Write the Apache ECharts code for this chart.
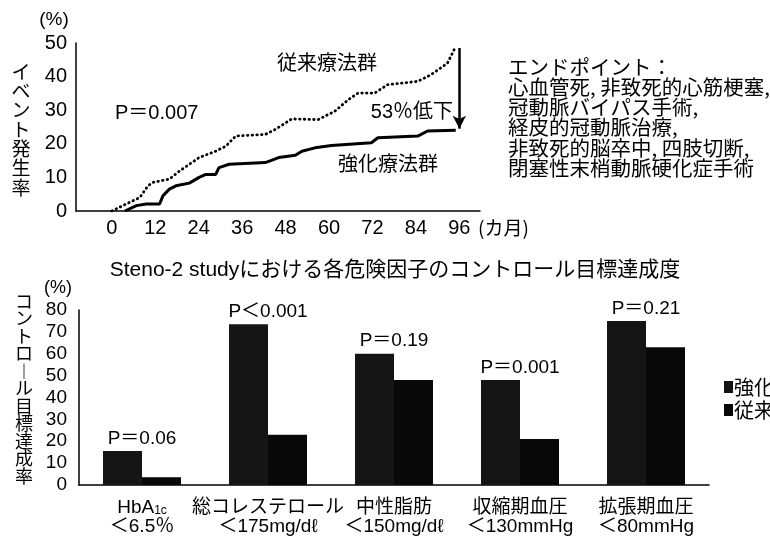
<!DOCTYPE html>
<html>
<head>
<meta charset="utf-8">
<script src="https://cdn.jsdelivr.net/npm/echarts@6/dist/echarts.min.js"></script>
<style>
html,body{margin:0;padding:0;background:#fff;}
#c{width:770px;height:536px;}
</style>
</head>
<body>
<div id="c"></div>
<script>
// ---- Top chart: cumulative event rate (%) vs months ----
const monthsConv = [0, 4.0, 7.7, 10.0, 11.3, 15.9, 18.7, 21.4, 24.1, 28.7, 31.5, 34.2, 42.4, 45.2, 49.7, 57.0, 61.6, 65.3, 68.0, 72.6, 76.2, 84.5, 88.1, 92.7, 95.0];
const rateConv   = [0, 2.1, 4.0, 7.5, 8.5, 9.5, 11.9, 13.9, 15.9, 17.8, 19.3, 22.3, 22.8, 24.3, 27.4, 27.2, 29.7, 33.1, 35.1, 35.1, 37.6, 38.6, 40.5, 44.0, 49.0];
const monthsInt  = [3.6, 6.8, 9.5, 13.2, 14.1, 15.9, 17.7, 21.4, 24.1, 26.0, 28.7, 29.6, 32.4, 42.4, 46.1, 50.7, 52.5, 56.1, 60.7, 71.7, 73.5, 84.5, 87.2, 95.0];
const rateInt    = [0, 1.6, 2.1, 2.1, 4.5, 6.5, 7.5, 8.3, 10.0, 10.9, 10.9, 12.9, 13.9, 14.4, 15.9, 16.6, 17.8, 18.8, 19.5, 20.3, 21.8, 22.3, 23.8, 24.0];
const xTickMonths = [0, 12, 24, 36, 48, 60, 72, 84, 96];
const arrowMonth = 96;
const arrowFrom = 48.5;
const arrowTo = 24.5;

// ---- Bottom chart: control target achievement (%) ----
const barCategories = ['HbA1c', '総コレステロール', '中性脂肪', '収縮期血圧', '拡張期血圧'];
const barCriteria   = ['＜6.5％', '＜175mg/dℓ', '＜150mg/dℓ', '＜130mmHg', '＜80mmHg'];
const barIntensive    = [15.5, 73.5, 60, 48, 75];
const barConventional = [3.5, 23, 48, 21, 63];
const pLabels = ['P＝0.06', 'P＜0.001', 'P＝0.19', 'P＝0.001', 'P＝0.21'];
const seriesNames = ['強化療法群', '従来療法群'];

const FONT = "'Liberation Sans', 'Noto Sans CJK JP', sans-serif";
const JFONT = "'Noto Sans CJK JP', sans-serif";

const chart = echarts.init(document.getElementById('c'), null, {renderer: 'canvas'});

function catLabel(v, i) {
  let first = v === 'HbA1c' ? 'HbA{s|1c}' : v;
  return first + '\n' + barCriteria[i];
}

const option = {
  backgroundColor: '#fff',
  animation: false,
  textStyle: {fontFamily: FONT, color: '#000'},
  legend: {
    orient: 'vertical',
    left: 719, top: 372,
    itemWidth: 9, itemHeight: 12, itemGap: 3,
    icon: 'rect',
    data: seriesNames,
    textStyle: {fontSize: 20, fontFamily: JFONT, color: '#000', lineHeight: 20, padding: [0, 0, 0, -4]},
    selectedMode: false
  },
  grid: [
    {left: 76, top: 43, width: 404, height: 168},
    {left: 79, top: 310, width: 630, height: 175}
  ],
  xAxis: [
    {
      gridIndex: 0, type: 'value', min: -9.9, max: 101.7,
      axisLine: {show: true, onZero: false, lineStyle: {color: '#000', width: 1.5}},
      axisTick: {show: false}, splitLine: {show: false},
      axisLabel: {customValues: xTickMonths, fontSize: 20, margin: 7, color: '#000', fontFamily: FONT}
    },
    {
      gridIndex: 1, type: 'category', data: barCategories,
      axisLine: {show: true, onZero: false, lineStyle: {color: '#000', width: 1.5}},
      axisTick: {show: false},
      axisLabel: {
        interval: 0, fontSize: 19, lineHeight: 19, margin: 13, color: '#000', fontFamily: FONT,
        formatter: catLabel,
        rich: {
          s: {fontSize: 12, fontFamily: FONT, color: '#000', verticalAlign: 'bottom', lineHeight: 19}
        }
      }
    }
  ],
  yAxis: [
    {
      gridIndex: 0, type: 'value', min: 0, max: 50, interval: 10,
      axisLine: {show: true, onZero: false, lineStyle: {color: '#000', width: 1.5}},
      axisTick: {show: false}, splitLine: {show: false},
      axisLabel: {fontSize: 20, margin: 9, color: '#000', fontFamily: FONT}
    },
    {
      gridIndex: 1, type: 'value', min: 0, max: 80, interval: 10,
      axisLine: {show: true, onZero: false, lineStyle: {color: '#000', width: 1.5}},
      axisTick: {show: false}, splitLine: {show: false},
      axisLabel: {fontSize: 19, margin: 12, color: '#000', fontFamily: FONT}
    }
  ],
  series: [
    {
      name: 'conv-line', type: 'line', xAxisIndex: 0, yAxisIndex: 0,
      data: monthsConv.map((m, i) => [m, rateConv[i]]),
      symbol: 'none', silent: true,
      lineStyle: {color: '#000', width: 2.8, type: [0.5, 4.2], cap: 'round'},
      markLine: {
        silent: true, symbol: ['none', 'arrow'], symbolSize: [10, 13],
        label: {show: false},
        lineStyle: {color: '#000', width: 2.5, type: 'solid'},
        data: [[{coord: [arrowMonth, arrowFrom]}, {coord: [arrowMonth, arrowTo]}]]
      }
    },
    {
      name: 'int-line', type: 'line', xAxisIndex: 0, yAxisIndex: 0,
      data: monthsInt.map((m, i) => [m, rateInt[i]]),
      symbol: 'none', silent: true,
      lineStyle: {color: '#000', width: 3}
    },
    {
      name: seriesNames[0], type: 'bar', xAxisIndex: 1, yAxisIndex: 1,
      data: barIntensive, barWidth: 39, barGap: '0%',
      itemStyle: {color: '#151515'},
      label: {
        show: true, position: 'top', distance: 3, offset: [19.5, 0],
        formatter: p => pLabels[p.dataIndex],
        fontSize: 19, color: '#000', fontFamily: FONT
      }
    },
    {
      name: seriesNames[1], type: 'bar', xAxisIndex: 1, yAxisIndex: 1,
      data: barConventional, barWidth: 39, barGap: '0%',
      itemStyle: {color: '#080808'}
    }
  ],
  graphic: [
    {type: 'text', x: 54, y: 20, style: {text: '(%)', font: '19px ' + FONT, fill: '#000', textAlign: 'center', textVerticalAlign: 'middle'}},
    {type: 'text', x: 21, y: 62, style: {text: 'イ\nベ\nン\nト\n発\n生\n率', font: '19px ' + JFONT, lineHeight: 19.3, fill: '#000', textAlign: 'center', textVerticalAlign: 'top'}},
    {type: 'text', x: 478, y: 228, style: {text: '(カ月)', font: '19px ' + JFONT, fill: '#000', textAlign: 'left', textVerticalAlign: 'middle'}},
    {type: 'text', x: 327, y: 62, style: {text: '従来療法群', font: '20px ' + JFONT, fill: '#000', textAlign: 'center', textVerticalAlign: 'middle'}},
    {type: 'text', x: 115, y: 113, style: {text: 'P＝0.007', font: '20px ' + FONT, fill: '#000', textAlign: 'left', textVerticalAlign: 'middle'}},
    {type: 'text', x: 453, y: 112, style: {text: '53％低下', font: '20px ' + FONT, fill: '#000', textAlign: 'right', textVerticalAlign: 'middle'}},
    {type: 'text', x: 388, y: 163, style: {text: '強化療法群', font: '20px ' + JFONT, fill: '#000', textAlign: 'center', textVerticalAlign: 'middle'}},
    {type: 'text', x: 508, y: 57, style: {
      text: 'エンドポイント：\n心血管死, 非致死的心筋梗塞,\n冠動脈バイパス手術,\n経皮的冠動脈治療,\n非致死的脳卒中, 四肢切断,\n閉塞性末梢動脈硬化症手術',
      font: '20.5px ' + JFONT, lineHeight: 20.2, fill: '#000', textAlign: 'left', textVerticalAlign: 'top'}},
    {type: 'text', x: 395, y: 270, style: {text: 'Steno-2 studyにおける各危険因子のコントロール目標達成度', font: '21px ' + FONT, fill: '#000', textAlign: 'center', textVerticalAlign: 'middle'}},
    {type: 'text', x: 58, y: 288, style: {text: '(%)', font: '18px ' + FONT, fill: '#000', textAlign: 'center', textVerticalAlign: 'middle'}},
    {type: 'text', x: 24, y: 292, style: {text: 'コ\nン\nト\nロ\n︱\nル\n目\n標\n達\n成\n率', font: '18px ' + JFONT, lineHeight: 17.5, fill: '#000', textAlign: 'center', textVerticalAlign: 'top'}}
  ]
};
chart.setOption(option);
</script>
</body>
</html>
